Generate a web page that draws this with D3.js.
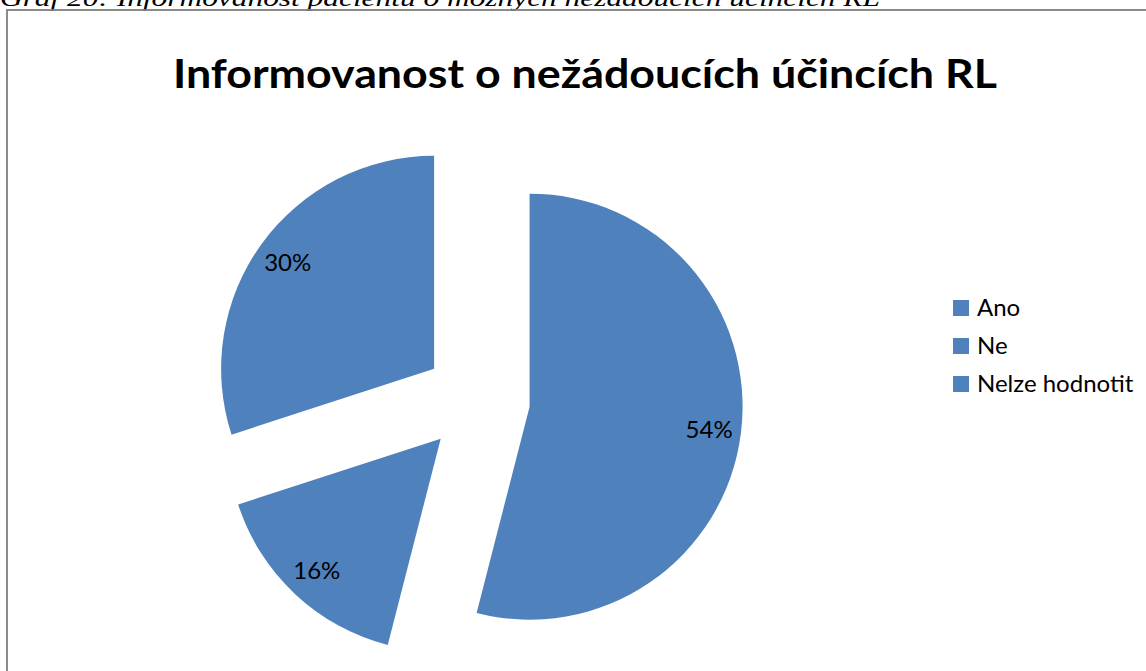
<!DOCTYPE html>
<html>
<head>
  <meta charset="utf-8">
  <title>Informovanost o nežádoucích účincích RL</title>
  <script src="https://d3js.org/d3.v7.min.js"></script>
  <style>
    body { margin: 0; background: #fff; }
    svg { display: block; }
    .caption { font-family: "Liberation Serif", serif; font-style: italic; }
    .title { font-family: Lato, "Open Sans", sans-serif; font-weight: bold; }
    .label, .legend text { font-family: Lato, "Open Sans", sans-serif; fill: #000; }
  </style>
</head>
<body>
  <svg width="1146" height="671"></svg>
  <script>
    const categories = ["Ano", "Ne", "Nelze hodnotit"];
    const values = [54, 16, 30];
    const captionText = "Graf 20: Informovanost pacientů o možných nežádoucích účincích RL";
    const titleText = "Informovanost o nežádoucích účincích RL";

    const data = categories.map((c, i) => ({ name: c, value: values[i] }));
    const total = d3.sum(values);

    const svg = d3.select("svg");
    const blue = "#4f81bd";

    // caption above the chart frame (cut off at top in the original)
    svg.append("text")
      .attr("class", "caption")
      .attr("x", 0)
      .attr("y", 6)
      .attr("font-size", 24)
      .attr("textLength", 880)
      .attr("lengthAdjust", "spacingAndGlyphs")
      .text(captionText);

    // chart frame
    svg.append("rect")
      .attr("x", 7)
      .attr("y", 10)
      .attr("width", 1200)
      .attr("height", 800)
      .attr("fill", "none")
      .attr("stroke", "#7f7f7f")
      .attr("stroke-width", 1.8);

    svg.append("text")
      .attr("class", "title")
      .attr("x", 585)
      .attr("y", 88)
      .attr("text-anchor", "middle")
      .attr("font-size", 40)
      .attr("textLength", 824)
      .attr("lengthAdjust", "spacingAndGlyphs")
      .text(titleText);

    const cx = 477, cy = 400, r = 213, explode = 53;

    const pie = d3.pie().value(d => d.value).sort(null);
    const arc = d3.arc().innerRadius(0).outerRadius(r);
    const labelArc = d3.arc().innerRadius(181).outerRadius(181);

    const arcs = pie(data);
    const g = svg.append("g").attr("transform", `translate(${cx},${cy})`);

    const slice = g.selectAll("g.slice")
      .data(arcs)
      .join("g")
      .attr("class", "slice")
      .attr("transform", d => {
        const a = (d.startAngle + d.endAngle) / 2;
        return `translate(${explode * Math.sin(a)},${-explode * Math.cos(a)})`;
      });

    slice.append("path")
      .attr("d", arc)
      .attr("fill", blue);

    slice.append("text")
      .attr("class", "label")
      .attr("transform", d => `translate(${labelArc.centroid(d)})`)
      .attr("text-anchor", "middle")
      .attr("dy", "0.35em")
      .attr("font-size", 24)
      .text(d => Math.round(d.data.value / total * 100) + "%");

    // legend
    const legend = svg.append("g").attr("class", "legend")
      .attr("transform", "translate(953,300)");

    const item = legend.selectAll("g")
      .data(categories)
      .join("g")
      .attr("transform", (d, i) => `translate(0,${i * 38})`);

    item.append("rect")
      .attr("width", 16)
      .attr("height", 16)
      .attr("fill", blue);

    item.append("text")
      .attr("x", 24)
      .attr("y", 16)
      .attr("font-size", 24)
      .text(d => d);
  </script>
</body>
</html>
